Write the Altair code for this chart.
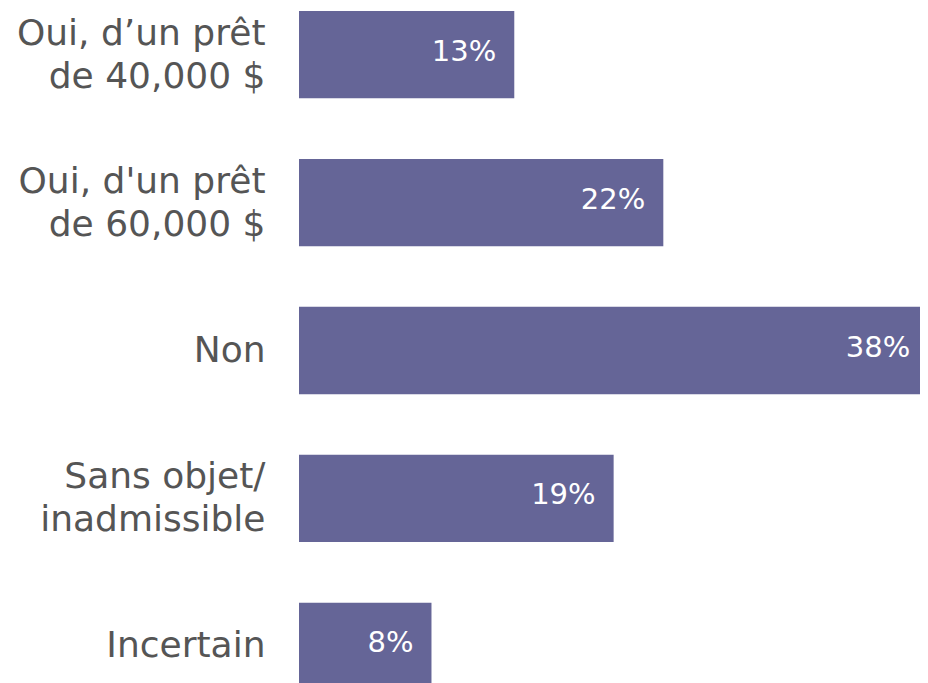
import altair as alt
import pandas as pd

categories = [
    "Oui, d’un prêt\nde 40,000 $",
    "Oui, d'un prêt\nde 60,000 $",
    "Non",
    "Sans objet/\ninadmissible",
    "Incertain",
]
values = [13, 22, 38, 19, 8]
value_labels = ["13%", "22%", "38%", "19%", "8%"]

df = pd.DataFrame({"cat": categories, "val": values, "lab": value_labels})

FONT = "DejaVu Sans"
BAR = "#656597"

y = alt.Y(
    "cat:N",
    sort=None,
    scale=alt.Scale(range=[3, 682], paddingInner=0.41, paddingOuter=0),
    axis=alt.Axis(
        title=None,
        domain=False,
        ticks=False,
        grid=False,
        labelExpr="split(datum.label, '\\n')",
        labelFont=FONT,
        labelFontSize=36,
        labelColor="#555555",
        labelLineHeight=43,
        labelPadding=34,
        labelLimit=400,
        labelOffset={
            "condition": {"test": "indexof(datum.value, '\\n') >= 0", "value": -21},
            "value": 0,
        },
    ),
)
x = alt.X("val:Q", scale=alt.Scale(domain=[0, 37.5], nice=False, zero=True), axis=None)

bars = alt.Chart(df).mark_bar(color=BAR, cornerRadius=0, strokeWidth=0).encode(x=x, y=y)
text = alt.Chart(df).mark_text(
    align="right", baseline="middle", dx=-18, dy=-3, color="white", font=FONT, fontSize=29
).encode(x=x, y=y, text="lab:N")

chart = (
    (bars + text)
    .properties(
        width=621,
        height=675,
        background="white",
        autosize=alt.AutoSizeParams(type="none"),
        padding={"left": 291, "top": 0, "right": 0, "bottom": 0},
    )
    .configure_view(strokeWidth=0)
    .configure_axis(grid=False, domain=False, ticks=False)
)

chart.save("out.html", embed_options={"renderer": "svg", "actions": False})
